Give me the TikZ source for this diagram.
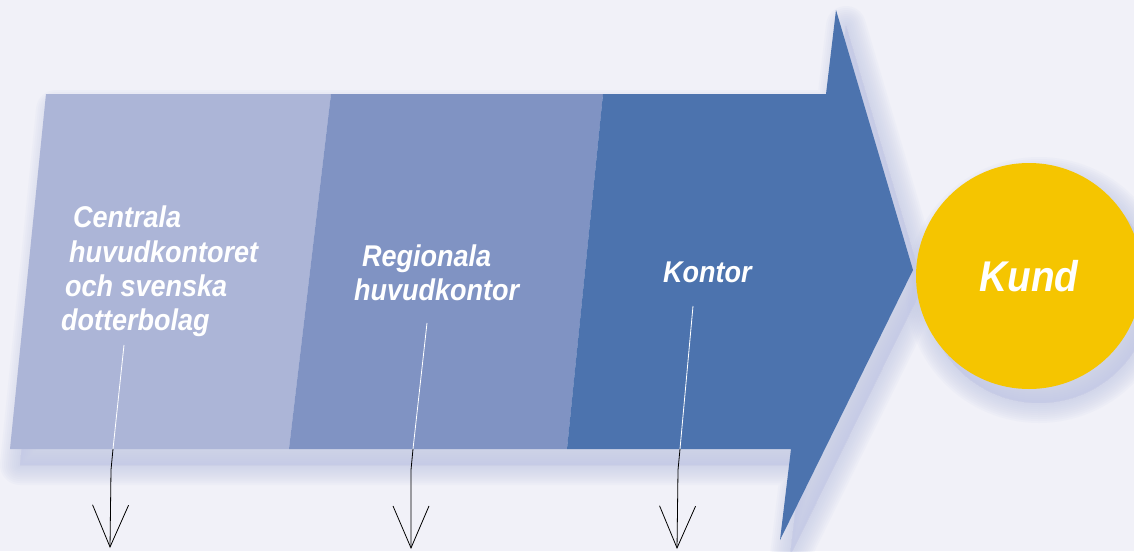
\documentclass[tikz,border=0pt]{standalone}
\usepackage{fontspec}
\newfontfamily\labelfont[FakeStretch=0.9]{Liberation Sans}
\usetikzlibrary{arrows.meta,positioning}
\definecolor{bgc}{RGB}{241,241,248}
\definecolor{shadowc}{RGB}{196,202,230}
\definecolor{stepone}{RGB}{172,181,215}
\definecolor{steptwo}{RGB}{128,147,195}
\definecolor{stepthree}{RGB}{76,115,174}
\definecolor{kundc}{RGB}{245,197,0}

\begin{document}
\begin{tikzpicture}[x=1pt,y=-1pt,
    lbl/.style={anchor=base west,inner sep=0pt,text=white,
                font=\labelfont\bfseries\itshape\fontsize{30}{34}\selectfont},
    pointer/.style={white,line width=0.8pt},
    downarrow/.style={black,line width=0.8pt,
                      -{Straight Barb[length=42pt,width=36pt,line width=0.8pt]}}]
      \useasboundingbox[fill=bgc] (0,0) rectangle (1134,551);
      \foreach \w in {40,36,...,4}
        \filldraw[shadowc,opacity=0.09,line width=\w pt,line join=round,shift={(10,16)}]
          (46,94) -- (826,94) -- (836,10) -- (913,270) -- (780,540) -- (791,449) -- (10,449) -- cycle;
      \foreach \w in {40,36,...,4}
        \filldraw[shadowc,opacity=0.09,line width=\w pt,shift={(10,14)}] (1029,276) circle (113);
      \fill[stepone] (46,94) -- (331,94) -- (289,449) -- (10,449) -- cycle;
      \fill[steptwo] (331,94) -- (603,94) -- (567,449) -- (289,449) -- cycle;
      \fill[stepthree] (603,94) -- (826,94) -- (836,10) -- (913,270) -- (780,540)
           -- (791,449) -- (567,449) -- cycle;
      \node[circle,fill=kundc,minimum size=226pt,inner sep=0pt,text=white,
            font=\labelfont\bfseries\itshape\fontsize{43}{48}\selectfont] (kund) at (1029,276) {Kund};

      \node[lbl] (c1) at (73,227) {Centrala};
      \node[lbl] (c2) at (69,262) {huvudkontoret};
      \node[lbl] (c3) at (65,296) {och svenska};
      \node[lbl] (c4) at (61,330) {dotterbolag};
      \node[lbl] (r1) at (362,266) {Regionala};
      \node[lbl] (r2) at (354,300) {huvudkontor};
      \node[lbl] (k1) at (663,282) {Kontor};

      \coordinate (p1) at (124,345);
      \coordinate (b1) at (113,449);
      \coordinate (m1) at (111,470);
      \coordinate (e1) at (110,548);
      \coordinate (p2) at (427,323);
      \coordinate (b2) at (413,449);
      \coordinate (m2) at (411,470);
      \coordinate (e2) at (411,549);
      \coordinate (p3) at (693,306);
      \coordinate (b3) at (680,449);
      \coordinate (m3) at (678,470);
      \coordinate (e3) at (677,549);
      \draw[pointer] (p1) -- (b1);
      \draw[downarrow] (b1) -- (m1) -- (e1);
      \draw[pointer] (p2) -- (b2);
      \draw[downarrow] (b2) -- (m2) -- (e2);
      \draw[pointer] (p3) -- (b3);
      \draw[downarrow] (b3) -- (m3) -- (e3);
    \end{tikzpicture}
\end{document}
